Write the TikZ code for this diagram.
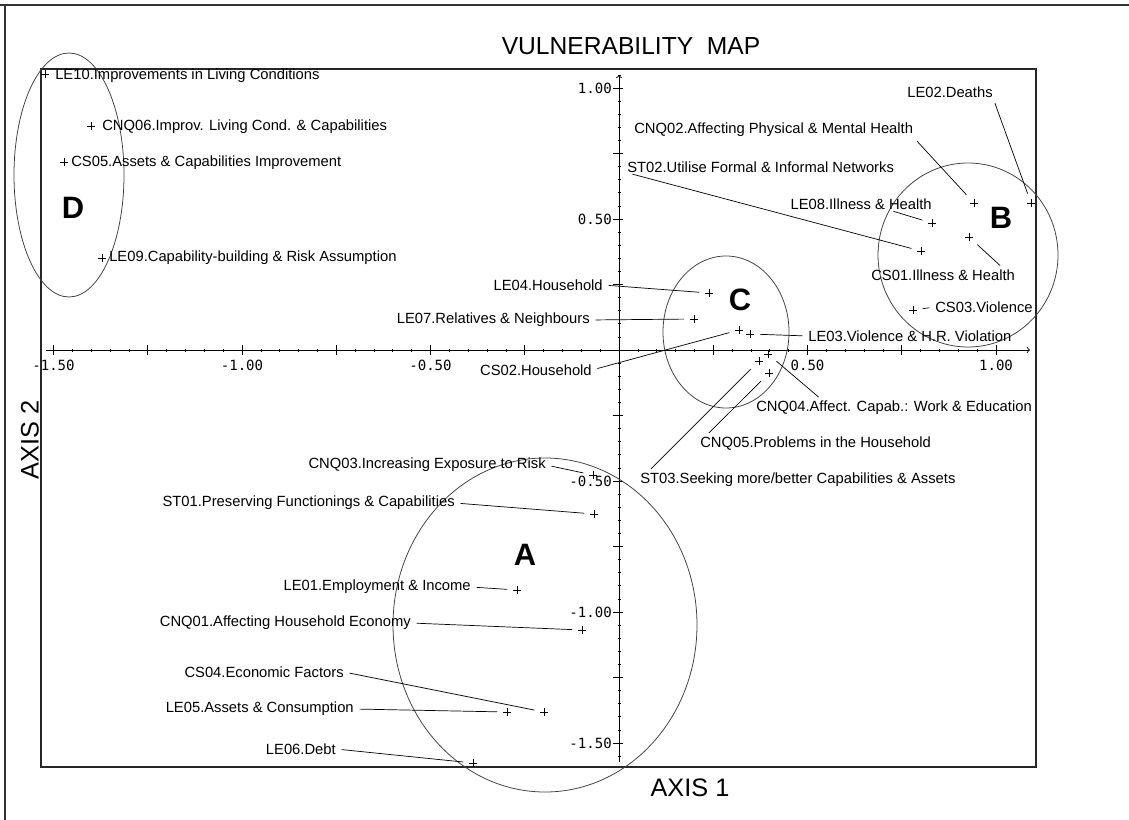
\documentclass[tikz,border=0pt]{standalone}
\usepackage{fontspec}
\setmainfont{Liberation Sans}
\setmonofont{DejaVu Sans Mono}
\usetikzlibrary{calc}

\begin{document}
\begin{tikzpicture}[x=0.025cm,y=-0.025cm,
    lab/.style={inner sep=0pt,font=\fontsize{10.5}{12}\selectfont},
    pt/.style={inner sep=0pt,minimum size=5.5pt,
      path picture={\draw[line width=.6pt] (path picture bounding box.north) -- (path picture bounding box.south)
                    (path picture bounding box.west) -- (path picture bounding box.east);}},
    conn/.style={line width=.5pt,shorten <=4pt,shorten >=4pt},
    ring/.style={line width=.55pt,black!75},
    group/.style={inner sep=0pt,font=\fontsize{22}{24}\selectfont\bfseries},
    axtick/.style={line width=.5pt},
    ticklab/.style={inner sep=0pt,font=\ttfamily\fontsize{10}{12}\selectfont}]

  \useasboundingbox (0,0) rectangle (1129,820);

  % page frame and plot box
  \draw[line width=.8pt,black!80] (0,5) -- (1129,5) (5,5) -- (5,820);
  \draw[line width=.8pt,black!85] (41,69) rectangle (1036,767);

  \node[font=\fontsize{17.5}{20}\selectfont] (title) at (631,46) {VULNERABILITY\ \ MAP};
  \node[font=\fontsize{18}{20}\selectfont] (axis1) at (690,788) {AXIS 1};
  \node[font=\fontsize{18}{20}\selectfont,rotate=90] (axis2) at (30,440) {AXIS 2};

  % axes
  \draw[line width=.6pt,->] (46,350) -- (1030,350);
  \draw[line width=.6pt,->] (619,762) -- (619,75);
  \foreach \i in {-30,...,20}
    \draw[axtick] ({619+18.85*\i},348.5) -- ++(0,3);
  \foreach \i in {-6,...,4}
    \draw[axtick] ({619+94.25*\i},345) -- ++(0,10);
  \foreach \i in {-31,...,21}
    \draw[axtick] (617.5,{350-13.1*\i}) -- ++(3,0);
  \foreach \i in {-6,...,4}
    \draw[axtick] (613,{350-65.5*\i}) -- ++(10,0);

  \foreach \name/\v/\t in {xa/-1.5/-1.50, xb/-1/-1.00, xc/-0.5/-0.50, xd/0.5/0.50, xe/1/1.00}
    \node[ticklab] (tick-\name) at ({619+377*\v},365) {\t};
  \foreach \name/\v/\t in {ya/1/1.00, yb/0.5/0.50, yc/-0.5/-0.50, yd/-1/-1.00, ye/-1.5/-1.50}
    \node[ticklab,anchor=east] (tick-\name) at (612,{350-262*\v}) {\t};

  % groups
  \draw[ring] (69,175) ellipse [x radius=55, y radius=122];
  \draw[ring] (968,255) ellipse [x radius=90, y radius=92];
  \draw[ring] (726,332) ellipse [x radius=63, y radius=76];
  \draw[ring] (545,625) ellipse [x radius=152, y radius=167];

  \node[group] (grp-A) at (525,555) {A};
  \node[group] (grp-B) at (1001,218) {B};
  \node[group] (grp-C) at (740,300) {C};
  \node[group] (grp-D) at (73,208) {D};

  % categories
  \foreach \name/\x/\y in {LE10/45/74, CNQ06/91/126, CS05/64/162, LE09/102/258,
                           LE02/1031/203, CNQ02/974/203, LE08/932/223, CS01/969/237,
                           ST02/921/251, CS03/913/310, LE04/709/293, LE07/694/319,
                           CS02/739/330, LE03/750/334, CNQ04/768/354, ST03/759/361,
                           CNQ05/769/373, CNQ03/593/475, ST01/594/514, LE01/517/590,
                           CNQ01/582/630, CS04/544/712, LE05/507/712, LE06/473/763}
    \node[pt] (p-\name) at (\x,\y) {};

  \begin{scope}
    \clip (41,69) rectangle (1036,767);
    \foreach \name/\anc/\x/\y/\text in {
        LE10/west/55/76/{LE10.Improvements in Living Conditions},
        CNQ06/west/102/127/{CNQ06.Improv. Living Cond. \& Capabilities},
        CS05/west/71/163/{CS05.Assets \& Capabilities Improvement},
        LE09/west/109/258/{LE09.Capability-building \& Risk Assumption},
        LE02/west/907/92/{LE02.Deaths},
        CNQ02/west/634/130/{CNQ02.Affecting Physical \& Mental Health},
        ST02/west/627/167/{ST02.Utilise Formal \& Informal Networks},
        LE08/east/932/204/{LE08.Illness \& Health},
        CS01/west/871/275/{CS01.Illness \& Health},
        CS03/west/935/307/{CS03.Violence},
        LE03/west/808/336/{LE03.Violence \& H.R. Violation},
        LE04/east/603/285/{LE04.Household},
        LE07/east/590/320/{LE07.Relatives \& Neighbours},
        CS02/east/592/370/{CS02.Household},
        CNQ04/west/756/408/{CNQ04.Affect. Capab.: Work \& Education},
        CNQ05/west/700/444/{CNQ05.Problems in the Household},
        ST03/west/640/480/{ST03.Seeking more/better Capabilities \& Assets},
        CNQ03/east/546/465/{CNQ03.Increasing Exposure to Risk},
        ST01/east/455/503/{ST01.Preserving Functionings \& Capabilities},
        LE01/east/471/587/{LE01.Employment \& Income},
        CNQ01/east/411/623/{CNQ01.Affecting Household Economy},
        CS04/east/344/672/{CS04.Economic Factors},
        LE05/east/354/709/{LE05.Assets \& Consumption},
        LE06/east/336/749/{LE06.Debt}}
      \node[lab,anchor=\anc] (l-\name) at (\x,\y) {\text};
  \end{scope}

  \coordinate (a-LE08) at ($(l-LE08.south east)+(-44,0)$);
  \coordinate (a-CS01) at ($(l-CS01.north east)+(-11,0)$);
  \coordinate (a-CNQ04) at ($(l-CNQ04.north west)+(67,0)$);
  \coordinate (a-CNQ05) at ($(l-CNQ05.north west)+(5,0)$);
  \coordinate (a-ST03) at ($(l-ST03.north west)+(7,0)$);

  \foreach \from/\to in {l-LE02.south east/p-LE02, l-CNQ02.south east/p-CNQ02,
                         l-ST02.south west/p-ST02, a-LE08/p-LE08, a-CS01/p-CS01,
                         l-CS03.west/p-CS03, l-LE03.west/p-LE03, l-LE04.east/p-LE04,
                         l-LE07.east/p-LE07, l-CS02.east/p-CS02, a-CNQ04/p-CNQ04,
                         a-CNQ05/p-CNQ05, a-ST03/p-ST03, l-CNQ03.east/p-CNQ03,
                         l-ST01.east/p-ST01, l-LE01.east/p-LE01, l-CNQ01.east/p-CNQ01,
                         l-CS04.east/p-CS04, l-LE05.east/p-LE05, l-LE06.east/p-LE06}
    \draw[conn] (\from) -- (\to);
\end{tikzpicture}
\end{document}
